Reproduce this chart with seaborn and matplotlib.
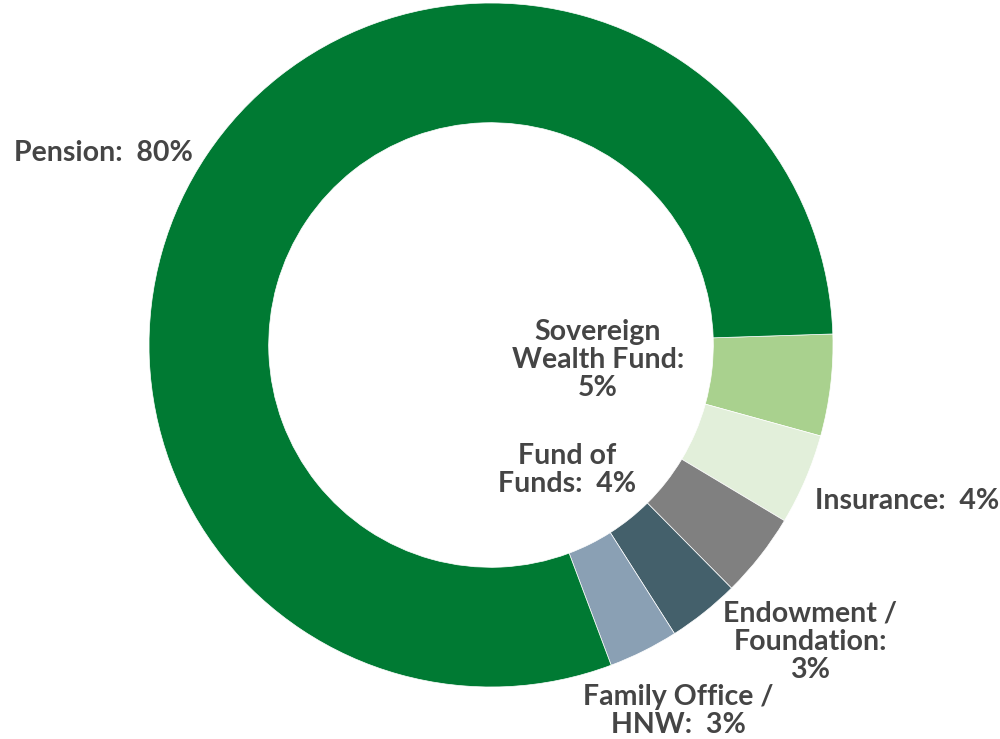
import matplotlib
matplotlib.use("Agg")
import matplotlib.pyplot as plt
import seaborn as sns

# investor types, clockwise from just above 3 o'clock
categories = ["Sovereign Wealth Fund", "Insurance", "Fund of Funds",
              "Endowment / Foundation", "Family Office / HNW", "Pension"]
shares = [4.8, 4.3, 4.0, 3.4, 3.3, 80.2]
label_text = ["Sovereign\nWealth Fund:\n5%", "Insurance:  4%", "Fund of\nFunds:  4%",
              "Endowment /\nFoundation:\n3%", "Family Office /\nHNW:  3%", "Pension:  80%"]
colors = ["#A9D18E", "#E2EFDA", "#808080", "#44606B", "#8AA0B4", "#007A33"]

# label anchor points in pixels (x, y from top) and alignment
label_pos = [(598, 360, "center"), (815, 501, "left"), (567, 470, "center"),
             (810, 642, "center"), (678, 711, "center"), (14, 153, "left")]

W, H = 1000, 739
CX, CY, R = 491, 345, 342


def main():
    sns.set_theme(style="white")
    plt.rcParams["font.family"] = ["Lato", "DejaVu Sans"]

    fig = plt.figure(figsize=(W / 100, H / 100), dpi=100)
    ax = fig.add_axes([0, 0, 1, 1])
    ax.pie(shares, colors=colors, startangle=1.85, counterclock=False,
           radius=1, wedgeprops=dict(width=0.35, edgecolor="white", linewidth=0.5))
    ax.set_xlim(-CX / R, (W - CX) / R)
    ax.set_ylim((CY - H) / R, CY / R)
    ax.set_aspect("auto")
    ax.axis("off")

    for txt, (px, py, ha) in zip(label_text, label_pos):
        fig.text(px / W, 1 - py / H, txt, ha=ha, va="center", multialignment="center",
                 fontsize=20.5, fontweight="bold", color="#454545", linespacing=1.1)

    fig.savefig("out.png", dpi=100, facecolor="white")


if __name__ == "__main__":
    main()
